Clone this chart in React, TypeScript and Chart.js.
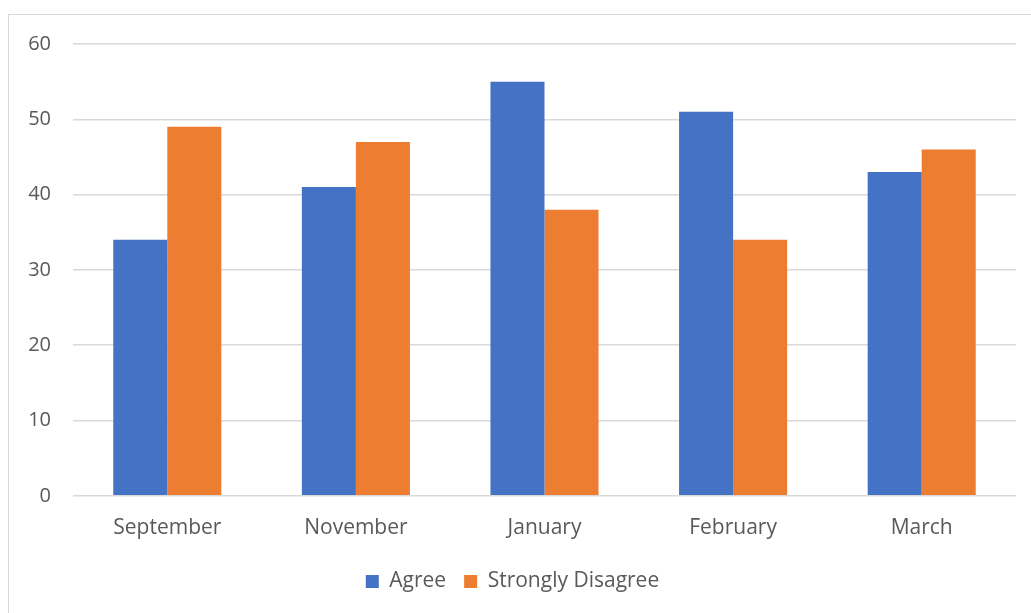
import React, { useEffect, useRef } from "react";
import { Chart, registerables } from "chart.js";

Chart.register(...registerables);

const categories = ["September", "November", "January", "February", "March"];
const agree = [34, 41, 55, 51, 43];
const stronglyDisagree = [49, 47, 38, 34, 46];
const seriesNames = ["Agree", "Strongly Disagree"];
const yMin = 0;
const yMax = 60;
const yStep = 10;

const FONT = "'Open Sans', 'Noto Sans', sans-serif";
const TEXT = "#595959";

export default function App() {
  const ref = useRef<HTMLCanvasElement | null>(null);
  useEffect(() => {
    document.body.style.overflow = "hidden";
    if (!ref.current) return;
    const chart = new Chart(ref.current, {
      type: "bar",
      data: {
        labels: categories,
        datasets: [
          { label: seriesNames[0], data: agree, backgroundColor: "#4472C4" },
          { label: seriesNames[1], data: stronglyDisagree, backgroundColor: "#ED7D31" },
        ],
      },
      options: {
        animation: false,
        responsive: true,
        maintainAspectRatio: false,
        datasets: { bar: { categoryPercentage: 0.573, barPercentage: 1 } },
        layout: { padding: { top: 29, right: 0, bottom: 11, left: 0 } },
        scales: {
          x: {
            grid: { display: false },
            border: { display: false },
            ticks: { color: TEXT, font: { family: FONT, size: 21 }, padding: 12 },
          },
          y: {
            min: yMin,
            max: yMax,
            afterFit: (s: any) => {
              s.width = 64;
              s.paddingTop = 0;
              s.paddingBottom = 0;
            },
            grid: { color: "#d9d9d9", lineWidth: 1.5, drawTicks: false },
            border: { display: false },
            ticks: { stepSize: yStep, color: TEXT, font: { family: FONT, size: 20 }, padding: 22 },
          },
        },
        plugins: {
          tooltip: { enabled: false },
          legend: {
            position: "bottom",
            labels: {
              color: TEXT,
              font: { family: FONT, size: 21 },
              boxWidth: 13,
              boxHeight: 13,
              padding: 18,
            },
          },
        },
      },
    });
    return () => chart.destroy();
  }, []);
  return (
    <div
      style={{
        position: "fixed",
        left: 8,
        top: 14,
        width: 1100,
        height: 700,
        border: "1px solid #d9d9d9",
        background: "#fff",
      }}
    >
      <div style={{ position: "relative", width: 1007, height: 598 }}>
        <canvas ref={ref} />
      </div>
    </div>
  );
}
